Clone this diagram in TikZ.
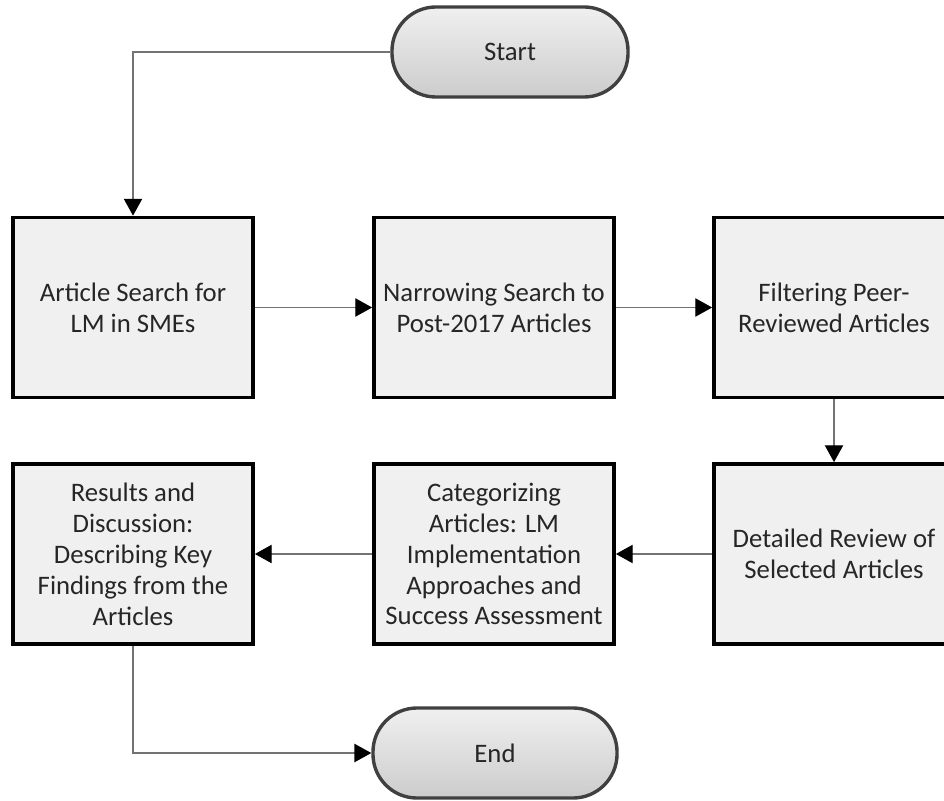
\documentclass[tikz,border=0pt]{standalone}
\usepackage{fontspec}
\setmainfont{Carlito}
\usetikzlibrary{arrows.meta}
\tikzset{
  stepbox/.style={draw=black,line width=2.6pt,fill=gray!12,minimum width=6cm,minimum height=4.5cm,align=center,text=black!85,font=\fontsize{19}{22}\selectfont,inner sep=2pt},
  termbox/.style={draw=black!75,line width=2.4pt,rounded corners=1.1cm,top color=gray!12,bottom color=gray!40,minimum height=2.25cm,text=black!85,font=\fontsize{19}{22}\selectfont},
  flow/.style={draw=black!55,line width=1pt,-{Triangle[width=13pt,length=12pt,color=black]}}
}
\begin{document}
\begin{tikzpicture}[x=0.025cm,y=-0.025cm]
\useasboundingbox[fill=white](0,0) rectangle (944,800);
\node[termbox,minimum width=5.9cm](start) at (510,52){Start};
\node[stepbox](search) at (133,307.5){Article Search for\\LM in SMEs};
\node[stepbox](narrow) at (494,307.5){Narrowing Search to\\Post-2017 Articles};
\node[stepbox](filter) at (834,307.5){Filtering Peer-\\Reviewed Articles};
\node[stepbox](review) at (834,554){Detailed Review of\\Selected Articles};
\node[stepbox](categ) at (494,554){Categorizing\\Articles: LM\\Implementation\\Approaches and\\Success Assessment};
\node[stepbox](results) at (133,554){Results and\\Discussion:\\Describing Key\\Findings from the\\Articles};
\node[termbox,minimum width=6.1cm](finish) at (495,753){End};
\draw[flow](start.west)-|(search.north);
\draw[flow](search)--(narrow);
\draw[flow](narrow)--(filter);
\draw[flow](filter)--(review);
\draw[flow](review)--(categ);
\draw[flow](categ)--(results);
\draw[flow](results.south)|-(finish.west);
\end{tikzpicture}
\end{document}
